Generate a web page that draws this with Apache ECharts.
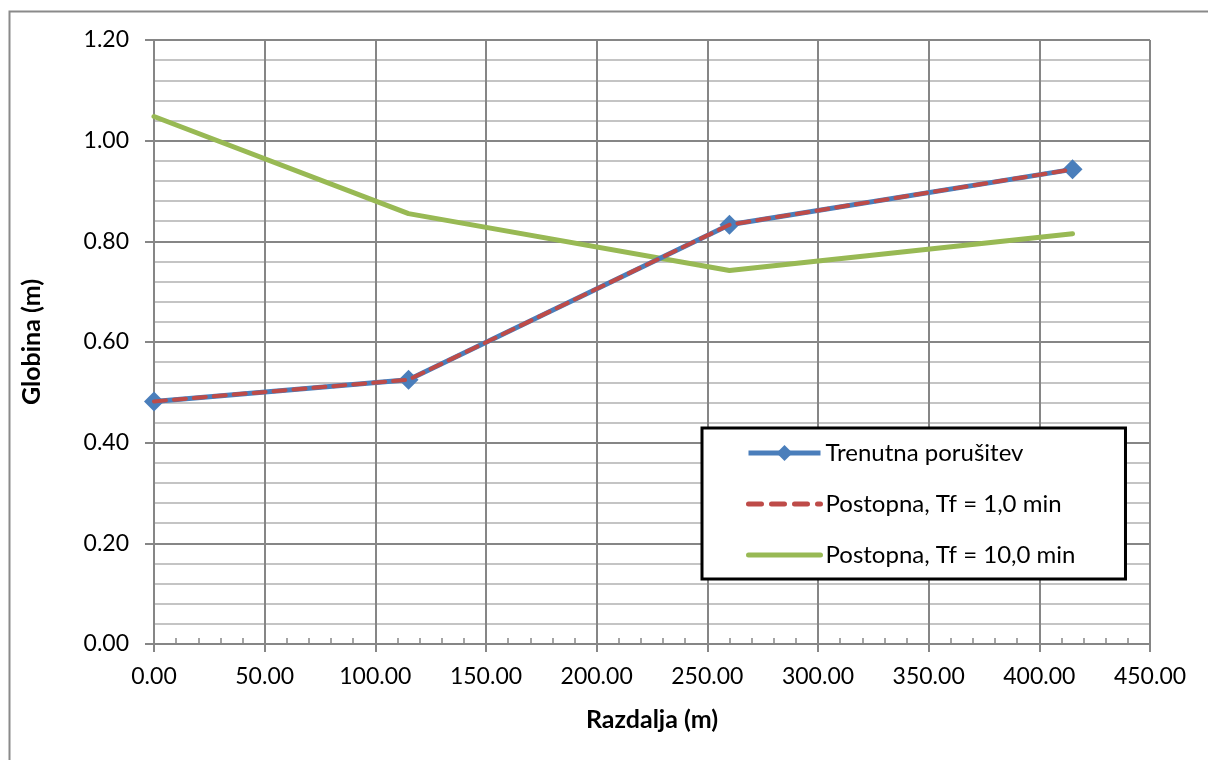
<!DOCTYPE html>
<html>
<head>
<meta charset="utf-8">
<script src="https://cdn.jsdelivr.net/npm/echarts@6/dist/echarts.min.js"></script>
<style>
html,body{margin:0;padding:0;background:#fff;}
#chart{width:1208px;height:760px;}
</style>
</head>
<body>
<div id="chart"></div>
<script>
const distances = [0, 115, 260, 415];
const trenutna = [0.482, 0.525, 0.833, 0.943];
const postopna1 = [0.482, 0.525, 0.833, 0.943];
const postopna10 = [1.048, 0.855, 0.742, 0.815];
const seriesNames = ['Trenutna porušitev', 'Postopna, Tf = 1,0 min', 'Postopna, Tf = 10,0 min'];
const xAxisName = 'Razdalja (m)';
const yAxisName = 'Globina (m)';

const pairs = (xs, ys) => xs.map((x, i) => [x, ys[i]]);
const FONT = 'Lato';
const BLUE = '#4a7ebb', RED = '#be4b48', GREEN = '#98b954';
const chart = echarts.init(document.getElementById('chart'), null, {renderer: 'canvas'});
chart.setOption({
  animation: false,
  backgroundColor: '#fff',
  textStyle: {fontFamily: FONT},
  graphic: [{
    type: 'rect', left: 7, top: 9, shape: {width: 1220, height: 770},
    style: {fill: 'none', stroke: '#8a8a8a', lineWidth: 2}, silent: true
  }],
  grid: {left: 154, top: 40, right: 58, bottom: 116, containLabel: false},
  xAxis: {
    type: 'value', min: 0, max: 450, interval: 50,
    name: xAxisName, nameLocation: 'middle', nameGap: 63,
    nameTextStyle: {fontFamily: FONT, fontWeight: 'bold', fontSize: 25, color: '#000'},
    axisLine: {show: true, onZero: false, lineStyle: {color: '#868686', width: 2}},
    axisTick: {show: true, length: 8, lineStyle: {color: '#868686', width: 2}},
    minorTick: {show: true, splitNumber: 5, length: -6, lineStyle: {color: '#868686', width: 1.5}},
    axisLabel: {formatter: v => v.toFixed(2), fontSize: 23, color: '#000', margin: 21, fontFamily: FONT},
    splitLine: {show: true, lineStyle: {color: '#868686', width: 2}},
    minorSplitLine: {show: false}
  },
  yAxis: {
    type: 'value', min: 0, max: 1.2, interval: 0.2,
    name: yAxisName, nameLocation: 'middle', nameGap: 110, nameRotate: 90,
    nameTextStyle: {fontFamily: FONT, fontWeight: 'bold', fontSize: 25, color: '#000'},
    axisLine: {show: true, lineStyle: {color: '#868686', width: 2}},
    axisTick: {show: true, length: 9, lineStyle: {color: '#868686', width: 2}},
    minorTick: {show: false, splitNumber: 5},
    axisLabel: {formatter: v => v.toFixed(2), fontSize: 23, color: '#000', margin: 25, fontFamily: FONT},
    splitLine: {show: true, lineStyle: {color: '#868686', width: 2}},
    minorSplitLine: {show: true, lineStyle: {color: '#c4c4c4', width: 2}}
  },
  legend: {
    orient: 'vertical', left: 702, top: 428,
    padding: [13, 50, 12, 44],
    itemGap: 27, itemWidth: 72, itemHeight: 20,
    borderColor: '#000', borderWidth: 3, backgroundColor: '#fff',
    textStyle: {fontSize: 24, color: '#000', fontFamily: FONT},
    data: [
      {name: seriesNames[0], lineStyle: {width: 5, color: BLUE}, itemStyle: {color: BLUE}},
      {name: seriesNames[1], lineStyle: {width: 5, color: RED, type: [13, 10], cap: 'round'}, itemStyle: {opacity: 0}},
      {name: seriesNames[2], lineStyle: {width: 5, color: GREEN}, itemStyle: {opacity: 0}}
    ]
  },
  series: [
    {
      name: seriesNames[0], type: 'line', data: pairs(distances, trenutna),
      symbol: 'diamond', symbolSize: 20, showSymbol: true,
      lineStyle: {color: BLUE, width: 5},
      itemStyle: {color: BLUE}, z: 2
    },
    {
      name: seriesNames[1], type: 'line', data: pairs(distances, postopna1),
      symbol: 'none',
      lineStyle: {color: RED, width: 4, type: [12, 8], cap: 'round'},
      itemStyle: {color: RED}, z: 3
    },
    {
      name: seriesNames[2], type: 'line', data: pairs(distances, postopna10),
      symbol: 'none',
      lineStyle: {color: GREEN, width: 5, cap: 'round'},
      itemStyle: {color: GREEN}, z: 1
    }
  ]
});
</script>
</body>
</html>
